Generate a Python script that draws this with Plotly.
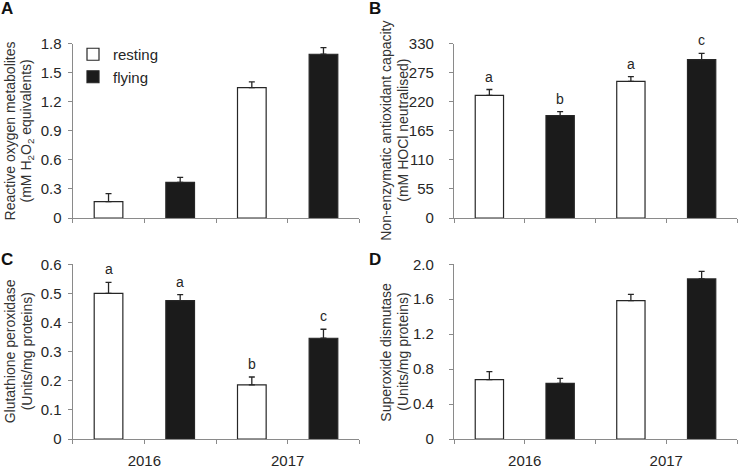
"""Oxidative status of resting vs flying birds, 2016 and 2017 (four panels)."""

import plotly.graph_objects as go

YEARS = ["2016", "2017"]
GROUPS = ["resting", "flying"]

# means and SE read in order: 2016 resting, 2016 flying, 2017 resting, 2017 flying
roms_mean = [0.168, 0.368, 1.344, 1.689]
roms_err = [0.084, 0.052, 0.060, 0.068]
oxy_mean = [232, 193.5, 258.5, 299.5]
oxy_err = [11, 7.5, 9, 12]
gpx_mean = [0.500, 0.475, 0.186, 0.346]
gpx_err = [0.038, 0.021, 0.027, 0.031]
sod_mean = [0.679, 0.637, 1.583, 1.832]
sod_err = [0.092, 0.058, 0.073, 0.087]

oxy_letters = ["a", "b", "a", "c"]
gpx_letters = ["a", "a", "b", "c"]

# y tick labels as printed on the figure
roms_ticks = ["0", "0.3", "0.6", "0.9", "1.2", "1.5", "1.8"]
oxy_ticks = ["0", "55", "110", "165", "220", "275", "330"]
gpx_ticks = ["0", "0.1", "0.2", "0.3", "0.4", "0.5", "0.6"]
sod_ticks = ["0", "0.4", "0.8", "1.2", "1.6", "2.0"]

FONT = "Liberation Sans, Arial, sans-serif"
AXIS = "#8a8a8a"
INK = "#262626"
FILL = {"resting": "#ffffff", "flying": "#1b1b1b"}

W, H = 738, 466

# pixel boxes of the four plotting areas -> paper domains
X_LEFT = [72.7 / W, 359.3 / W]
X_RIGHT = [454 / W, 737 / W]
Y_TOP = [1 - 218 / H, 1 - 43.5 / H]
Y_BOT = [1 - 439 / H, 1 - 264.3 / H]

panels = [
    # (axis suffix, xdomain, ydomain, means, errs, letters, ticks, title lines, tag, show years)
    ("", X_LEFT, Y_TOP, roms_mean, roms_err, None, roms_ticks,
     ["Reactive oxygen metabolites", "(mM H<sub>2</sub>O<sub>2</sub> equivalents)"], "A", False),
    ("2", X_RIGHT, Y_TOP, oxy_mean, oxy_err, oxy_letters, oxy_ticks,
     ["Non-enzymatic antioxidant capacity", "(mM HOCl neutralised)"], "B", False),
    ("3", X_LEFT, Y_BOT, gpx_mean, gpx_err, gpx_letters, gpx_ticks,
     ["Glutathione peroxidase", "(Units/mg proteins)"], "C", True),
    ("4", X_RIGHT, Y_BOT, sod_mean, sod_err, None, sod_ticks,
     ["Superoxide dismutase", "(Units/mg proteins)"], "D", True),
]

fig = go.Figure()
annotations = []
layout = {}

for k, (sfx, xd, yd, means, errs, letters, yticks, title, tag, show_years) in enumerate(panels):
    right = xd[0] > 0.5
    # bar position = year index * 2 + group index
    for g, grp in enumerate(GROUPS):
        xs = [y * 2 + g for y in range(len(YEARS))]
        ys = [means[x] for x in xs]
        es = [errs[x] for x in xs]
        fig.add_trace(go.Bar(
            x=xs, y=ys, width=0.4, name=grp,
            marker=dict(color=FILL[grp], line=dict(color=INK, width=1.2)),
            error_y=dict(type="data", symmetric=False, array=es, arrayminus=[0] * len(es),
                         color=INK, thickness=1.3, width=3),
            xaxis="x" + sfx, yaxis="y" + sfx,
            showlegend=(k == 0), legendgroup=grp, hoverinfo="skip",
        ))
        if letters:
            for x in xs:
                annotations.append(dict(
                    x=x, y=means[x] + errs[x], xref="x" + sfx, yref="y" + sfx,
                    text=letters[x], showarrow=False, yanchor="bottom", yshift=3,
                    font=dict(size=14, color=INK, family=FONT),
                ))

    n = len(YEARS) * len(GROUPS)
    ticktext = []
    for i in range(n + 1):
        label = YEARS[i // 2] if (show_years and i % 2 == 1) else ""
        ticktext.append(label)
    layout["xaxis" + sfx] = dict(
        domain=xd, anchor="y" + sfx, range=[-0.5, n - 0.5], automargin=False,
        tickvals=[i - 0.5 for i in range(n + 1)], ticktext=ticktext,
        ticks="outside", ticklen=4, tickcolor=AXIS, tickwidth=1.2,
        showline=True, linecolor=AXIS, linewidth=1.3,
        showgrid=False, zeroline=False, ticklabelstandoff=4,
        tickfont=dict(size=15, color=INK, family=FONT),
    )
    layout["yaxis" + sfx] = dict(
        domain=yd, anchor="x" + sfx, range=[0, float(yticks[-1])], automargin=False,
        tickvals=[float(t) for t in yticks], ticktext=yticks,
        ticks="outside", ticklen=4, tickcolor=AXIS, tickwidth=1.2,
        showline=True, linecolor=AXIS, linewidth=1.3,
        showgrid=False, zeroline=False, ticklabelstandoff=12 if right else 3,
        tickfont=dict(size=15, color=INK, family=FONT),
    )

    # two-line rotated y titles
    left = xd[0] * W
    offs = (68, 51) if right else (63, 46)
    ymid = (yd[0] + yd[1]) / 2
    for line, off in zip(title, offs):
        annotations.append(dict(
            x=(left - off) / W, y=ymid, xref="paper", yref="paper",
            text=line, textangle=-90, showarrow=False,
            xanchor="center", yanchor="middle",
            font=dict(size=14, color="#333333", family=FONT),
        ))

    # panel tag
    tag_x = 368 / W if right else 0
    tag_y = 1.0 if yd[1] > 0.5 else 1 - 251 / H
    annotations.append(dict(
        x=tag_x, y=tag_y, xref="paper", yref="paper", text="<b>" + tag + "</b>",
        showarrow=False, xanchor="left", yanchor="top", yshift=3, xshift=-1,
        font=dict(size=17, color="#111111", family=FONT),
    ))

fig.update_layout(
    width=W, height=H,
    margin=dict(l=0, r=0, t=0, b=0, autoexpand=False),
    paper_bgcolor="white", plot_bgcolor="white",
    font=dict(family=FONT, color=INK),
    barmode="overlay",
    annotations=annotations,
    legend=dict(
        x=73 / W, y=1 - 38 / H, xanchor="left", yanchor="top",
        bgcolor="rgba(0,0,0,0)", font=dict(size=15, color=INK, family=FONT),
        tracegroupgap=0,
    ),
    **layout,
)

# the page body has a default 8px margin; drop it so the figure sits at the corner
fig.write_html("out.html", config={"displayModeBar": False},
               post_script="document.body.style.margin='0';")
